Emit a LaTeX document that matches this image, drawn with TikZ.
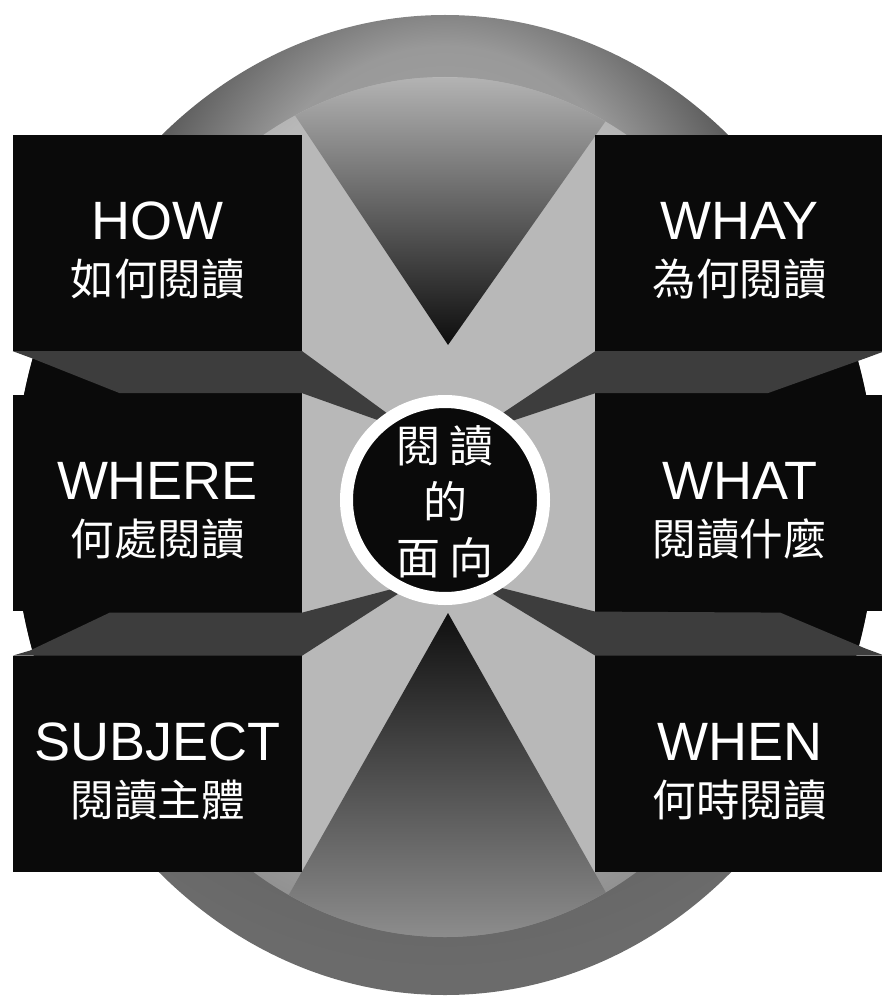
\documentclass[tikz,border=0pt]{standalone}
\usepackage{fontspec}
\newfontfamily\enfont{Liberation Sans}
\newfontfamily\zhfont{Noto Sans CJK TC}
\usetikzlibrary{positioning}
\pgfdeclarelayer{back}
\pgfdeclarelayer{mid}
\pgfsetlayers{back,mid,main}
\pgfdeclareradialshading{rimshade}{\pgfpoint{0bp}{15bp}}{color(0bp)=(black!35); color(12bp)=(black!40); color(19bp)=(black!64); color(30bp)=(black!58); color(50bp)=(black!55)}
\pgfdeclareradialshading{discshade}{\pgfpoint{0bp}{10bp}}{color(0bp)=(black!22); color(19bp)=(black!28); color(26bp)=(black!38); color(30bp)=(black!45); color(50bp)=(black!55)}
\newcommand\paneltext[2]{\rule{0pt}{52pt}{\enfont #1}\\{\zhfont\fontsize{43.5}{56}\selectfont #2}}
\tikzset{
panel/.style={
  fill=black!96,
  minimum width=289pt,
  minimum height=216pt,
  inner sep=0pt,
  text=white,
  align=center,
  font=\enfont\fontsize{54}{56}\selectfont
  },
core/.style={
  circle,
  fill=black!96,
  draw=white,
  line width=13pt,
  minimum size=197pt,
  inner sep=0pt
  },
coretext/.style={
  text=white,
  align=center,
  inner sep=0pt,
  font=\zhfont\fontsize{44}{56}\selectfont
  },
beam/.style={fill=black!76}
}

\begin{document}
\begin{tikzpicture}[x=1pt,y=-1pt]
\useasboundingbox (0,0) rectangle (881,1000);

\node[panel] at (157.5,243)
  (how) {\paneltext{HOW}{如何閱讀}};
\node[panel,below=44pt of how]
  (where) {\paneltext{WHERE}{何處閱讀}};
\node[panel,below=44pt of where]
  (subject) {\paneltext{SUBJECT}{閱讀主體}};
\node[panel,right=293pt of how]
  (why) {\paneltext{WHAY}{為何閱讀}};
\node[panel,right=293pt of where]
  (what) {\paneltext{WHAT}{閱讀什麼}};
\node[panel,right=293pt of subject]
  (when) {\paneltext{WHEN}{何時閱讀}};

\node[core] at (445,500)
  (core) {};
\node[coretext] at ([shift={(0,2)}]core.center)
  (coretitle) {閱\hspace{10pt}讀\\的\\面\hspace{10pt}向};

% disc, band and the two wedges
\begin{pgfonlayer}{back}
\shade[shading=rimshade]
  (445,505) ellipse [x radius=432pt, y radius=490pt];
\shade[shading=discshade]
  (445,507) ellipse [x radius=362pt, y radius=430pt];
\begin{scope}
\clip (445,505) ellipse [x radius=432pt, y radius=490pt];
\fill[black!96] ([shift={(-20,0)}]how.north west) rectangle (subject.south east);
\fill[black!96] (why.north west) rectangle ([shift={(20,0)}]when.south east);
\end{scope}
\fill[black!28] (how.north east) rectangle (when.south west);
\begin{scope}
\clip (445,507) ellipse [x radius=362pt, y radius=430pt];
\shade[top color=black!30,middle color=black!70,bottom color=black!95]
  (270,78) -- (448,345) -- (636,78) -- cycle;
\shade[top color=black!94,middle color=black!88,bottom color=black!45]
  (265,937) -- (448,613) -- (631,937) -- cycle;
\end{scope}
\end{pgfonlayer}

% beams into the core
\begin{pgfonlayer}{mid}
\fill[beam]
  (how.south west) -- (how.south east) -- ([shift={(-31,-67)}]core.center)
  -- ([shift={(0,-2)}]where.north east) -- ([shift={(107,-2)}]where.north west)
  -- ([shift={(19,7)}]how.south west) -- cycle;
\fill[beam]
  (why.south west) -- (why.south east) -- ([shift={(-19,7)}]why.south east)
  -- ([shift={(-117,-2)}]what.north east) -- ([shift={(0,-2)}]what.north west)
  -- ([shift={(25,-65)}]core.center) -- cycle;
\fill[beam]
  ([shift={(0,1)}]where.south east) -- ([shift={(97,1)}]where.south west)
  -- ([shift={(17,-5)}]subject.north west) -- (subject.north west)
  -- (subject.north east) -- ([shift={(-30,83)}]core.center) -- cycle;
\fill[beam]
  (what.south west) -- ([shift={(185,1)}]what.south west)
  -- ([shift={(-19,-7)}]when.north east) -- (when.north east)
  -- (when.north west) -- ([shift={(25,80)}]core.center) -- cycle;
\end{pgfonlayer}
\end{tikzpicture}
\end{document}
